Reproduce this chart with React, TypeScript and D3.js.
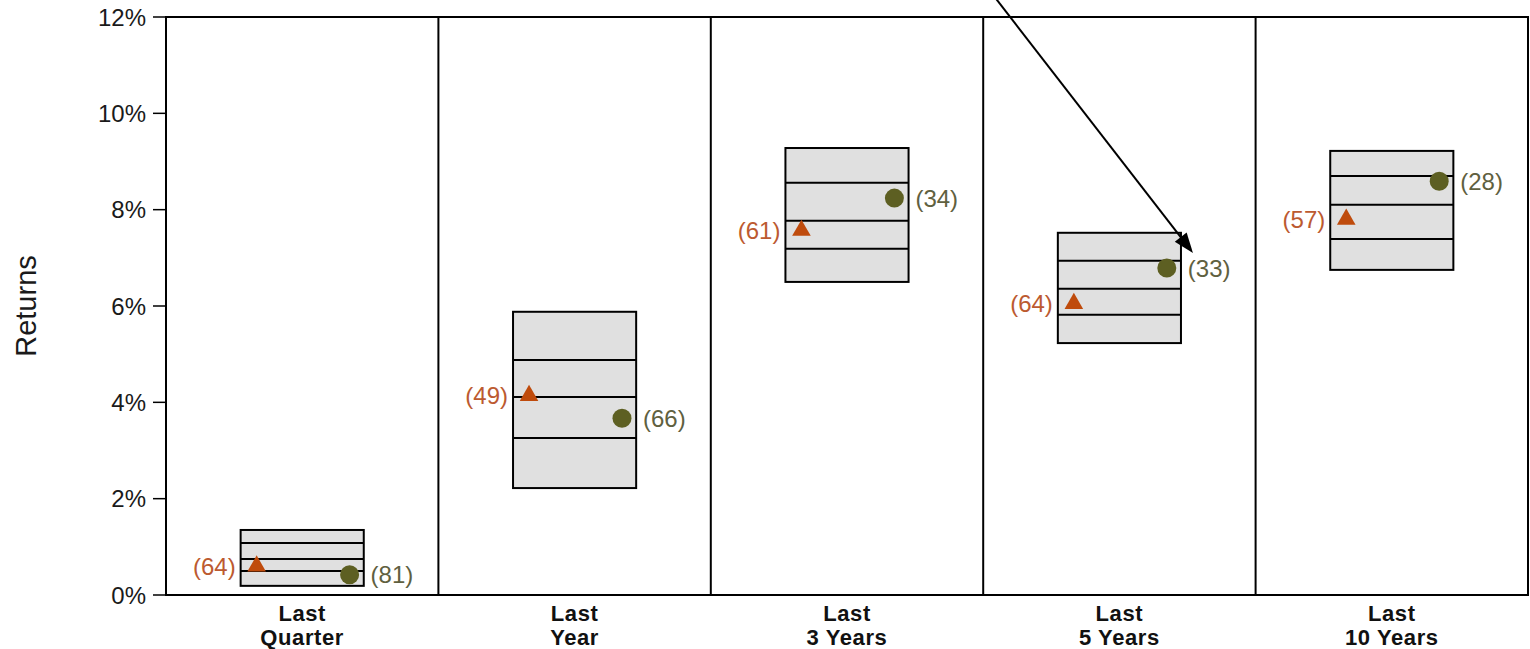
import React from "react";
import * as d3 from "d3";

// Periods shown as columns
const categories: string[][] = [
  ["Last", "Quarter"],
  ["Last", "Year"],
  ["Last", "3 Years"],
  ["Last", "5 Years"],
  ["Last", "10 Years"],
];

// Peer-group percentile bands (5th, 25th, median, 75th, 95th) in %
const p5 = [1.35, 5.88, 9.28, 7.52, 9.22];
const p25 = [1.08, 4.88, 8.56, 6.94, 8.7];
const p50 = [0.75, 4.11, 7.77, 6.36, 8.1];
const p75 = [0.5, 3.26, 7.19, 5.82, 7.39];
const p95 = [0.19, 2.22, 6.5, 5.23, 6.75];

// Portfolio (triangle) and benchmark (circle) returns in %, with ranks
const triangleValues = [0.6, 4.14, 7.57, 6.05, 7.8];
const triangleRanks = [64, 49, 61, 64, 57];
const circleValues = [0.42, 3.67, 8.24, 6.79, 8.59];
const circleRanks = [81, 66, 34, 33, 28];

const yTicks = [0, 2, 4, 6, 8, 10, 12];

const W = 1530;
const H = 649;
const left = 166;
const right = 1528;
const top = 17;
const bottom = 595;

const FONT = "'Liberation Sans', Arial, Helvetica, sans-serif";
const TRI_COLOR = "#BF4B0C";
const CIRCLE_COLOR = "#5D5F22";
const TRI_TEXT = "#BC5A30";
const CIRCLE_TEXT = "#5F6040";

export default function App() {
  const x = d3
    .scaleBand<number>()
    .domain(categories.map((_, i) => i))
    .range([left, right])
    .padding(0);
  const y = d3.scaleLinear().domain([0, 12]).range([bottom, top]);

  const bw = x.bandwidth();
  const boxW = bw * 0.452;
  const tri = d3.symbol().type(d3.symbolTriangle).size(150)()!;

  // Arrow pointing at the 5-year benchmark marker
  const arrowIdx = 3;
  const bx = (x(arrowIdx) as number) + bw / 2;
  const tipX = bx + boxW / 2 + 12;
  const tipY = y(circleValues[arrowIdx]) - 15;
  const dir = [196, 253];
  const len = Math.hypot(dir[0], dir[1]);
  const ux = dir[0] / len;
  const uy = dir[1] / len;
  const startT = (tipY + 4) / uy;
  const startX = tipX - ux * startT;
  const startY = tipY - uy * startT;
  const headLen = 20;
  const headHalf = 7.5;
  const baseX = tipX - ux * headLen;
  const baseY = tipY - uy * headLen;
  const head = [
    [tipX, tipY],
    [baseX - uy * headHalf, baseY + ux * headHalf],
    [baseX + uy * headHalf, baseY - ux * headHalf],
  ];

  return (
    <svg width={W} height={H} style={{ display: "block", position: "absolute", left: 0, top: 0 }} fontFamily={FONT}>
      <rect width={W} height={H} fill="#fff" />

      {/* y-axis ticks and labels */}
      {yTicks.map((t) => (
        <g key={t}>
          <line x1={left - 13} x2={left} y1={y(t)} y2={y(t)} stroke="#000" strokeWidth={1.5} />
          <text x={left - 20} y={y(t)} dy="0.36em" textAnchor="end" fontSize={24} fill="#1a1a1a">
            {t}%
          </text>
        </g>
      ))}
      <text
        transform={`translate(36, ${(top + bottom) / 2}) rotate(-90)`}
        textAnchor="middle"
        fontSize={29}
        fill="#1a1a1a"
      >
        Returns
      </text>

      {/* panels */}
      {categories.map((c, i) => {
        const x0 = x(i) as number;
        const cx = x0 + bw / 2;
        const bl = cx - boxW / 2;
        const br = cx + boxW / 2;
        const lines = [p25[i], p50[i], p75[i]];
        const tx = bl + boxW * 0.13;
        const ccx = bl + boxW * 0.885;
        return (
          <g key={i}>
            <rect
              x={bl}
              y={y(p5[i])}
              width={boxW}
              height={y(p95[i]) - y(p5[i])}
              fill="#E0E0E0"
              stroke="#000"
              strokeWidth={2}
            />
            {lines.map((v, k) => (
              <line key={k} x1={bl} x2={br} y1={y(v)} y2={y(v)} stroke="#000" strokeWidth={2} />
            ))}
            <path d={tri} transform={`translate(${tx},${y(triangleValues[i])})`} fill={TRI_COLOR} />
            <text
              x={tx - 21}
              y={y(triangleValues[i])}
              dy="0.36em"
              textAnchor="end"
              fontSize={24}
              fill={TRI_TEXT}
            >
              ({triangleRanks[i]})
            </text>
            <circle cx={ccx} cy={y(circleValues[i])} r={9.5} fill={CIRCLE_COLOR} />
            <text
              x={ccx + 21}
              y={y(circleValues[i])}
              dy="0.36em"
              textAnchor="start"
              fontSize={24}
              fill={CIRCLE_TEXT}
            >
              ({circleRanks[i]})
            </text>
            {c.map((line, k) => (
              <text
                key={k}
                x={cx}
                y={bottom + 26 + k * 24}
                textAnchor="middle"
                fontSize={22}
                letterSpacing={0.6}
                fontWeight="bold"
                fill="#111"
              >
                {line}
              </text>
            ))}
            {i > 0 && <line x1={x0} x2={x0} y1={top} y2={bottom} stroke="#000" strokeWidth={2} />}
          </g>
        );
      })}

      {/* plot frame */}
      <rect x={left} y={top} width={right - left} height={bottom - top} fill="none" stroke="#000" strokeWidth={2} />

      {/* annotation arrow */}
      <line x1={startX} y1={startY} x2={baseX} y2={baseY} stroke="#000" strokeWidth={2} />
      <polygon points={head.map((p) => p.join(",")).join(" ")} fill="#000" />
    </svg>
  );
}
